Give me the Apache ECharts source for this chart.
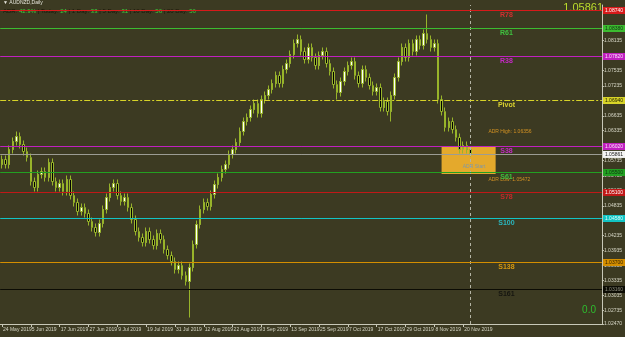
<!DOCTYPE html>
<html>
<head>
<meta charset="utf-8">
<script src="https://cdn.jsdelivr.net/npm/echarts@6/dist/echarts.min.js"></script>
<style>
  html, body { margin: 0; padding: 0; background: #3c3a22; }
  #chart { width: 625px; height: 337px; }
</style>
</head>
<body>
<div id="chart"></div>
<script>
// AUDNZD daily, 24 May 2019 .. 22 Nov 2019 (weekdays)
const openP = [
  1.0566, 1.0576, 1.0566, 1.0596, 1.0612, 1.0622, 1.0606, 1.0592, 1.0580, 1.0532,
  1.0520, 1.0546, 1.0552, 1.0540, 1.0570, 1.0532, 1.0520, 1.0528, 1.0512, 1.0536,
  1.0504, 1.0490, 1.0472, 1.0480, 1.0468, 1.0452, 1.0440, 1.0430, 1.0448, 1.0476,
  1.0500, 1.0520, 1.0528, 1.0504, 1.0492, 1.0500, 1.0480, 1.0456, 1.0432, 1.0420,
  1.0410, 1.0432, 1.0416, 1.0404, 1.0428, 1.0416, 1.0396, 1.0384, 1.0372, 1.0356,
  1.0364, 1.0344, 1.0332, 1.0360, 1.0406, 1.0446, 1.0476, 1.0490, 1.0482, 1.0506,
  1.0526, 1.0540, 1.0556, 1.0566, 1.0586, 1.0596, 1.0610, 1.0632, 1.0652, 1.0660,
  1.0676, 1.0688, 1.0668, 1.0696, 1.0704, 1.0716, 1.0728, 1.0744, 1.0728, 1.0756,
  1.0768, 1.0786, 1.0808, 1.0816, 1.0792, 1.0776, 1.0800, 1.0780, 1.0764, 1.0784,
  1.0792, 1.0768, 1.0752, 1.0726, 1.0710, 1.0732, 1.0752, 1.0764, 1.0772, 1.0744,
  1.0728, 1.0756, 1.0740, 1.0724, 1.0712, 1.0720, 1.0680, 1.0692, 1.0672, 1.0704,
  1.0740, 1.0772, 1.0800, 1.0780, 1.0808, 1.0792, 1.0816, 1.0804, 1.0828, 1.0816,
  1.0800, 1.0808, 1.0696, 1.0672, 1.0640, 1.0652, 1.0636, 1.0620, 1.0596, 1.0604,
  1.0596
];
const closeP = [
  1.0576, 1.0566, 1.0596, 1.0612, 1.0622, 1.0606, 1.0592, 1.0580, 1.0532, 1.0520,
  1.0546, 1.0552, 1.0540, 1.0570, 1.0532, 1.0520, 1.0528, 1.0512, 1.0536, 1.0504,
  1.0490, 1.0472, 1.0480, 1.0468, 1.0452, 1.0440, 1.0430, 1.0448, 1.0476, 1.0500,
  1.0520, 1.0528, 1.0504, 1.0492, 1.0500, 1.0480, 1.0456, 1.0432, 1.0420, 1.0410,
  1.0432, 1.0416, 1.0404, 1.0428, 1.0416, 1.0396, 1.0384, 1.0372, 1.0356, 1.0364,
  1.0344, 1.0332, 1.0360, 1.0406, 1.0446, 1.0476, 1.0490, 1.0482, 1.0506, 1.0526,
  1.0540, 1.0556, 1.0566, 1.0586, 1.0596, 1.0610, 1.0632, 1.0652, 1.0660, 1.0676,
  1.0688, 1.0668, 1.0696, 1.0704, 1.0716, 1.0728, 1.0744, 1.0728, 1.0756, 1.0768,
  1.0786, 1.0808, 1.0816, 1.0792, 1.0776, 1.0800, 1.0780, 1.0764, 1.0784, 1.0792,
  1.0768, 1.0752, 1.0726, 1.0710, 1.0732, 1.0752, 1.0764, 1.0772, 1.0744, 1.0728,
  1.0756, 1.0740, 1.0724, 1.0712, 1.0720, 1.0680, 1.0692, 1.0672, 1.0704, 1.0740,
  1.0772, 1.0800, 1.0780, 1.0808, 1.0792, 1.0816, 1.0804, 1.0828, 1.0816, 1.0800,
  1.0808, 1.0696, 1.0672, 1.0640, 1.0652, 1.0636, 1.0620, 1.0596, 1.0604, 1.0596,
  1.0586
];
const lowP = [
  1.0558, 1.0558, 1.0558, 1.0588, 1.0604, 1.0598, 1.0584, 1.0572, 1.0524, 1.0512,
  1.0512, 1.0538, 1.0532, 1.0532, 1.0524, 1.0512, 1.0512, 1.0504, 1.0504, 1.0496,
  1.0482, 1.0464, 1.0464, 1.0460, 1.0444, 1.0432, 1.0422, 1.0422, 1.0440, 1.0468,
  1.0492, 1.0512, 1.0496, 1.0484, 1.0484, 1.0472, 1.0448, 1.0424, 1.0412, 1.0402,
  1.0402, 1.0408, 1.0396, 1.0396, 1.0408, 1.0388, 1.0376, 1.0364, 1.0348, 1.0348,
  1.0336, 1.0324, 1.0260, 1.0352, 1.0398, 1.0438, 1.0468, 1.0474, 1.0474, 1.0498,
  1.0518, 1.0532, 1.0548, 1.0558, 1.0578, 1.0588, 1.0602, 1.0624, 1.0644, 1.0652,
  1.0668, 1.0660, 1.0660, 1.0688, 1.0696, 1.0708, 1.0720, 1.0720, 1.0720, 1.0748,
  1.0760, 1.0778, 1.0800, 1.0784, 1.0768, 1.0768, 1.0772, 1.0756, 1.0756, 1.0776,
  1.0760, 1.0744, 1.0718, 1.0696, 1.0702, 1.0724, 1.0744, 1.0756, 1.0736, 1.0720,
  1.0720, 1.0732, 1.0716, 1.0704, 1.0704, 1.0672, 1.0672, 1.0664, 1.0652, 1.0696,
  1.0732, 1.0764, 1.0772, 1.0772, 1.0784, 1.0784, 1.0796, 1.0796, 1.0808, 1.0792,
  1.0792, 1.0688, 1.0664, 1.0632, 1.0632, 1.0628, 1.0612, 1.0588, 1.0588, 1.0588,
  1.0582
];
const highP = [
  1.0584, 1.0584, 1.0604, 1.0620, 1.0632, 1.0630, 1.0614, 1.0600, 1.0588, 1.0540,
  1.0554, 1.0560, 1.0560, 1.0578, 1.0578, 1.0540, 1.0536, 1.0536, 1.0544, 1.0544,
  1.0512, 1.0498, 1.0488, 1.0488, 1.0476, 1.0460, 1.0448, 1.0456, 1.0484, 1.0508,
  1.0528, 1.0536, 1.0536, 1.0512, 1.0508, 1.0508, 1.0488, 1.0464, 1.0440, 1.0428,
  1.0440, 1.0440, 1.0424, 1.0436, 1.0436, 1.0424, 1.0404, 1.0392, 1.0380, 1.0372,
  1.0372, 1.0352, 1.0368, 1.0414, 1.0454, 1.0484, 1.0498, 1.0498, 1.0514, 1.0534,
  1.0548, 1.0564, 1.0574, 1.0594, 1.0604, 1.0618, 1.0640, 1.0660, 1.0668, 1.0684,
  1.0696, 1.0696, 1.0704, 1.0712, 1.0724, 1.0736, 1.0752, 1.0752, 1.0764, 1.0776,
  1.0794, 1.0816, 1.0826, 1.0824, 1.0800, 1.0808, 1.0808, 1.0788, 1.0792, 1.0800,
  1.0800, 1.0776, 1.0760, 1.0734, 1.0740, 1.0760, 1.0772, 1.0780, 1.0780, 1.0752,
  1.0764, 1.0764, 1.0748, 1.0732, 1.0728, 1.0728, 1.0700, 1.0700, 1.0712, 1.0748,
  1.0780, 1.0808, 1.0808, 1.0816, 1.0816, 1.0824, 1.0824, 1.0836, 1.0866, 1.0824,
  1.0816, 1.0816, 1.0704, 1.0680, 1.0660, 1.0660, 1.0644, 1.0628, 1.0612, 1.0612,
  1.0600
];

// pivot / fibo levels
const levelNames = ['R78', 'R61', 'R38', 'Pivot', 'S38', 'S61', 'S78', 'S100', 'S138', 'S161'];
const levelValues = [1.0874, 1.0838, 1.0782, 1.0694, 1.0602, 1.0550, 1.0510, 1.0458, 1.0370, 1.0316];
const lastPrice = 1.05861;
const adrHigh = 1.06356;
const adrLow = 1.05472;
const adrBoxTop = 1.0601;

// y axis tick labels
const yTicks = [1.0247, 1.02735, 1.03035, 1.03335, 1.03635, 1.03935, 1.04235, 1.04535, 1.04835,
  1.05135, 1.05435, 1.05735, 1.06035, 1.06335, 1.06635, 1.06935, 1.07235, 1.07535, 1.07835, 1.08135];

// header stats
const statNames = ['Today', '1 Day', '5 Day', '10 Day', '20 Day'];
const statValues = [24, 33, 31, 56, 56];
const adrPct = '42.9%';

const months = ['Jan', 'Feb', 'Mar', 'Apr', 'May', 'Jun', 'Jul', 'Aug', 'Sep', 'Oct', 'Nov', 'Dec'];
const dates = [];
let d = new Date(Date.UTC(2019, 4, 24));
while (dates.length < openP.length) {
  const wd = d.getUTCDay();
  if (wd !== 0 && wd !== 6) {
    dates.push(d.getUTCDate() + ' ' + months[d.getUTCMonth()] + ' ' + d.getUTCFullYear());
  }
  d = new Date(d.getTime() + 86400000);
}
const categories = dates.concat(new Array(36).fill(''));
const candles = openP.map((o, i) => [o, closeP[i], lowP[i], highP[i]]);
const lastIdx = dates.length - 1;

const levelColors = ['#d81a1a', '#3cbc30', '#c020c0', '#d8d428', '#c020c0', '#22a022', '#c01818', '#12c4c4', '#d48e00', '#0c0c04'];
const levelTagText = ['#ffffff', '#103010', '#ffe0ff', '#202000', '#ffe0ff', '#0f300f', '#ffffff', '#e0ffff', '#302000', '#909080'];
const labelColors = ['#d03030', '#3fc23f', '#c429c4', '#d8d030', '#c429c4', '#3fc23f', '#c42a2a', '#2ab8c0', '#d89a10', '#151510'];
const FONT = 'Liberation Sans';

const chart = echarts.init(document.getElementById('chart'), null, { renderer: 'canvas' });

function tag(text, bg, fg) {
  return {
    show: true, position: 'end', distance: 1, formatter: text,
    backgroundColor: bg, color: fg, fontSize: 5, fontFamily: FONT, padding: [1, 2]
  };
}

// one empty helper series per level, each carrying its own line
const levelSeries = levelValues.map((v, i) => ({
  type: 'line',
  name: levelNames[i],
  data: [],
  silent: true,
  markLine: {
    silent: true,
    precision: 5,
    symbol: ['none', 'none'],
    emphasis: { disabled: true },
    lineStyle: {
      color: levelColors[i],
      width: 1,
      opacity: 1,
      type: levelNames[i] === 'Pivot' ? [6, 2, 2, 2] : 'solid'
    },
    label: tag(v.toFixed(5), levelColors[i], levelTagText[i]),
    data: [{ yAxis: v }]
  },
  markPoint: {
    silent: true,
    symbol: 'circle',
    symbolSize: 0,
    label: {
      show: true, fontSize: 7, fontFamily: FONT, fontWeight: 'bold',
      formatter: levelNames[i], color: labelColors[i], position: 'bottom', distance: 1
    },
    data: [{ coord: [140, v] }]
  }
}));

const adrPoints = [
  { coord: [135, adrHigh - 0.0003], label: { formatter: 'ADR High: ' + adrHigh.toFixed(5), color: '#d49222', position: 'right', distance: 0 } },
  { coord: [135, adrLow - 0.0011], label: { formatter: 'ADR Low: ' + adrLow.toFixed(5), color: '#d49222', position: 'right', distance: 0 } },
  { coord: [131, (adrBoxTop + adrLow) / 2 - 0.0013], label: { formatter: 'ADR Start', color: '#7e98a8', position: 'inside' } }
];

chart.setOption({
  backgroundColor: '#3c3a22',
  animation: false,
  grid: { left: 0, right: 21, top: 5, bottom: 13 },
  xAxis: {
    type: 'category',
    data: categories,
    boundaryGap: true,
    axisLine: { lineStyle: { color: '#c8c8b8', width: 1 } },
    axisTick: {
      show: true,
      alignWithLabel: true,
      length: 3,
      lineStyle: { color: '#c8c8b8' },
      interval: (idx) => idx % 8 === 0 && idx <= lastIdx
    },
    axisLabel: {
      interval: (idx) => idx % 8 === 0 && idx <= lastIdx,
      align: 'left',
      margin: 3,
      fontSize: 5,
      fontFamily: FONT,
      color: '#d4d4c4',
      padding: [0, 0, 0, 1]
    },
    splitLine: { show: false }
  },
  yAxis: {
    type: 'value',
    position: 'right',
    min: 1.0247,
    max: 1.0885,
    axisLine: { show: true, lineStyle: { color: '#c8c8b8', width: 1 } },
    axisTick: { show: true, length: 2, customValues: yTicks, lineStyle: { color: '#c8c8b8' } },
    axisLabel: {
      customValues: yTicks,
      formatter: (v) => v.toFixed(5),
      margin: 2,
      fontSize: 5,
      fontFamily: FONT,
      color: '#d8d8c8'
    },
    splitLine: { show: false }
  },
  series: [
    {
      type: 'candlestick',
      data: candles,
      barWidth: 2,
      itemStyle: {
        color: '#ffffff',
        color0: '#000000',
        borderColor: '#98b42a',
        borderColor0: '#98b42a',
        borderWidth: 1
      },
      markArea: {
        silent: true,
        itemStyle: { color: '#e4a92c', opacity: 1 },
        data: [[{ xAxis: 122, yAxis: adrBoxTop }, { xAxis: 137, yAxis: adrLow }]]
      },
      markLine: {
        silent: true,
        precision: 5,
        symbol: ['none', 'none'],
        data: [
          {
            yAxis: lastPrice,
            lineStyle: { color: '#9c9c94', width: 1, type: 'solid' },
            label: tag(lastPrice.toFixed(5), '#f4f4f4', '#202020')
          },
          {
            xAxis: lastIdx,
            lineStyle: { color: '#b4b4a4', width: 1, type: [3, 3] },
            label: { show: false }
          }
        ]
      },
      markPoint: {
        silent: true,
        symbol: 'circle',
        symbolSize: 0,
        label: { show: true, fontSize: 5, fontFamily: FONT },
        data: adrPoints
      }
    }
  ].concat(levelSeries),
  graphic: [
    {
      type: 'text', left: 3, top: 0,
      style: { text: '\u25BC AUDNZD,Daily', fill: '#e6e6dc', fontSize: 5, fontFamily: FONT }
    },
    {
      type: 'text', left: 3, top: 8,
      style: {
        text: '{k|ADR:} {v|' + adrPct + '}' + statNames.map((n, i) => ' {k|| ' + n + ':} {v|' + statValues[i] + '}').join(''),
        fontSize: 6, fontFamily: FONT,
        rich: {
          k: { fill: '#1a1608', fontSize: 6, fontFamily: FONT },
          v: { fill: '#3ad03a', fontSize: 6, fontFamily: FONT }
        }
      }
    },
    {
      type: 'text', right: 22, top: 2,
      style: { text: lastPrice.toFixed(5), fill: '#bcdc2c', fontSize: 11, fontFamily: FONT }
    },
    {
      type: 'text', right: 29, top: 305,
      style: { text: '0.0', fill: '#2ebc2e', fontSize: 10, fontFamily: FONT }
    }
  ]
});
</script>
</body>
</html>
